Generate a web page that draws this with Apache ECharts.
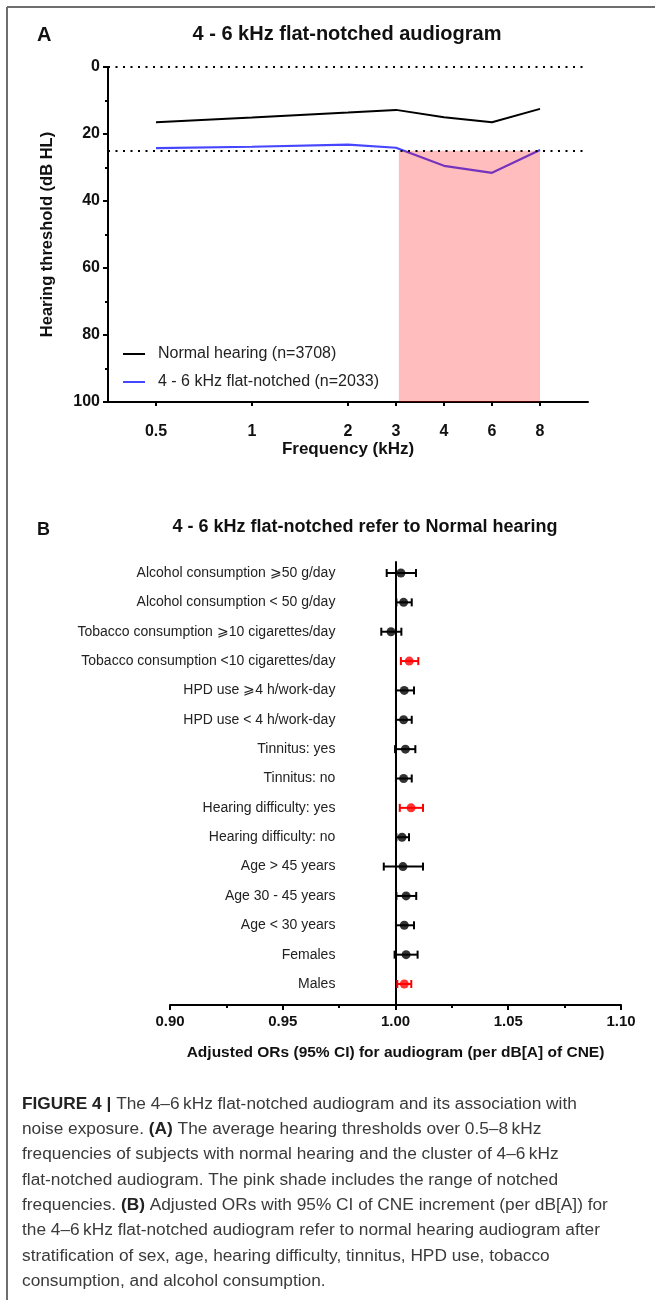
<!DOCTYPE html>
<html>
<head>
<meta charset="utf-8">
<title>Figure 4</title>
<script src="https://cdn.jsdelivr.net/npm/echarts@6/dist/echarts.min.js"></script>
<style>
    html, body { margin: 0; padding: 0; background: #fff; }
    #main { width: 655px; height: 1300px; }
</style>
</head>
<body>
<div id="main"></div>
<script>
// ---- panel A: audiogram ----
const freqLabels = ['0.5', '1', '2', '3', '4', '6', '8']
// x axis is not log: 0.5 / 1 / 2 sit two slots apart, 3 / 4 / 6 / 8 one slot apart
const freqSlots = [0, 2, 4, 5, 6, 7, 8]
const normalHearing = [16.5, 15.1, 13.6, 12.8, 15.0, 16.5, 12.5]
const flatNotched = [24.2, 23.8, 23.2, 24.1, 29.5, 31.6, 24.8]
// notched range shade: slot from, slot to, dB from, dB to
const notchShade = [5.06, 8, 25, 100]
const refLines = [0, 25]

// ---- panel B: adjusted ORs ----
const subgroups = [
    'Alcohol consumption \u2A7E50 g/day',
    'Alcohol consumption < 50 g/day',
    'Tobacco consumption \u2A7E10 cigarettes/day',
    'Tobacco consumption <10 cigarettes/day',
    'HPD use \u2A7E4 h/work-day',
    'HPD use < 4 h/work-day',
    'Tinnitus: yes',
    'Tinnitus: no',
    'Hearing difficulty: yes',
    'Hearing difficulty: no',
    'Age > 45 years',
    'Age 30 - 45 years',
    'Age < 30 years',
    'Females',
    'Males'
]
const orValue = [1.0024, 1.0036, 0.9980, 1.0061, 1.0039, 1.0036, 1.0044, 1.0036, 1.0069, 1.0029, 1.0033, 1.0047, 1.0039, 1.0047, 1.0039]
const ciLow = [0.9961, 1.0004, 0.9937, 1.0024, 1.0002, 1.0002, 0.9998, 1.0002, 1.0019, 1.0004, 0.9948, 1.0004, 1.0002, 0.9996, 1.0008]
const ciHigh = [1.0091, 1.0072, 1.0026, 1.0101, 1.0082, 1.0072, 1.0088, 1.0072, 1.0122, 1.0060, 1.0122, 1.0092, 1.0082, 1.0098, 1.0070]
const significant = [0, 0, 0, 1, 0, 0, 0, 0, 1, 0, 0, 0, 0, 0, 1]
const orTicks = [0.90, 0.95, 1.00, 1.05, 1.10]

// ---- caption ----
const captionLines = [
    '{b|FIGURE 4 |} The 4\u20136\u2009kHz flat-notched audiogram and its association with',
    'noise exposure. {b|(A)} The average hearing thresholds over 0.5\u20138\u2009kHz',
    'frequencies of subjects with normal hearing and the cluster of 4\u20136\u2009kHz',
    'flat-notched audiogram. The pink shade includes the range of notched',
    'frequencies. {b|(B)} Adjusted ORs with 95% CI of CNE increment (per dB[A]) for',
    'the 4\u20136\u2009kHz flat-notched audiogram refer to normal hearing audiogram after',
    'stratification of sex, age, hearing difficulty, tinnitus, HPD use, tobacco',
    'consumption, and alcohol consumption.'
]

const font = '"Liberation Sans", Arial, Helvetica, sans-serif'
const rows = subgroups.map((s, i) => i)

const chart = echarts.init(document.getElementById('main'))

const option = {
    animation: false,
    textStyle: { fontFamily: font },
    title: [
        {
            text: '4 - 6 kHz flat-notched audiogram',
            left: 347, top: 24, textAlign: 'center', padding: 0,
            textStyle: { fontSize: 20, fontWeight: 'bold', color: '#111' }
        },
        {
            text: '4 - 6 kHz flat-notched refer to Normal hearing',
            left: 365, top: 518, textAlign: 'center', padding: 0,
            textStyle: { fontSize: 18, fontWeight: 'bold', color: '#111' }
        }
    ],
    legend: {
        left: 123, top: 346, orient: 'vertical', padding: 0,
        icon: 'rect', itemWidth: 22, itemHeight: 2, itemGap: 12,
        data: ['Normal hearing (n=3708)', '4 - 6 kHz flat-notched (n=2033)'],
        textStyle: { fontSize: 16, color: '#222', padding: [0, 0, 0, 8] }
    },
    grid: [
        { left: 108, right: 67, top: 67, bottom: 898 },
        { left: 170, right: 34, top: 562, bottom: 295 }
    ],
    xAxis: [
        {
            gridIndex: 0, type: 'value', min: -1, max: 9, position: 'bottom',
            axisLine: { onZero: false, lineStyle: { color: '#000', width: 2 } },
            axisTick: { customValues: freqSlots, length: 4, lineStyle: { color: '#000', width: 2 } },
            axisLabel: {
                customValues: freqSlots, margin: 22,
                formatter: v => freqLabels[freqSlots.indexOf(v)],
                fontSize: 16, fontWeight: 'bold', color: '#111'
            },
            splitLine: { show: false },
            name: 'Frequency (kHz)', nameLocation: 'middle', nameGap: 39,
            nameTextStyle: { fontSize: 17, fontWeight: 'bold', color: '#111' }
        },
        {
            gridIndex: 1, type: 'value', min: 0.9, max: 1.1, interval: 0.05, position: 'bottom',
            axisLine: { onZero: false, lineStyle: { color: '#000', width: 2 } },
            axisTick: { length: 5, lineStyle: { color: '#000', width: 2 } },
            minorTick: { show: true, splitNumber: 2, length: 3, lineStyle: { color: '#000', width: 2 } },
            axisLabel: {
                customValues: orTicks, margin: 9,
                formatter: v => v.toFixed(2),
                fontSize: 15, fontWeight: 'bold', color: '#111'
            },
            splitLine: { show: false },
            name: 'Adjusted ORs (95% CI) for audiogram (per dB[A] of CNE)',
            nameLocation: 'middle', nameGap: 40,
            nameTextStyle: { fontSize: 15.5, fontWeight: 'bold', color: '#111' }
        }
    ],
    yAxis: [
        {
            gridIndex: 0, type: 'value', inverse: true, min: 0, max: 100, interval: 20, position: 'left',
            axisLine: { show: true, onZero: false, lineStyle: { color: '#000', width: 2 } },
            axisTick: { show: true, length: 5, lineStyle: { color: '#000', width: 2 } },
            minorTick: { show: true, splitNumber: 2, length: 3, lineStyle: { color: '#000', width: 2 } },
            axisLabel: { margin: 8, fontSize: 16, fontWeight: 'bold', color: '#111' },
            splitLine: { show: false },
            name: 'Hearing threshold (dB HL)', nameLocation: 'middle', nameGap: 52,
            nameTextStyle: { fontSize: 16.5, fontWeight: 'bold', color: '#111' }
        },
        {
            // vertical reference axis sits at OR = 1.00
            gridIndex: 1, type: 'value', inverse: true, min: -0.375, max: 14.715, position: 'left',
            offset: -225.4,
            axisLine: { show: true, onZero: false, lineStyle: { color: '#000', width: 2 } },
            axisTick: { show: false },
            axisLabel: {
                customValues: rows, margin: 60,
                formatter: v => subgroups[v],
                fontSize: 14, color: '#222'
            },
            splitLine: { show: false }
        }
    ],
    series: [
        {
            name: 'Normal hearing (n=3708)', type: 'line',
            xAxisIndex: 0, yAxisIndex: 0, symbol: 'none', z: 2,
            color: '#000',
            lineStyle: { color: '#000', width: 2 },
            data: freqSlots.map((x, i) => [x, normalHearing[i]]),
            markLine: {
                silent: true, symbol: 'none', label: { show: false },
                lineStyle: { color: '#000', width: 2, type: [2, 5.5] },
                data: refLines.map(v => ({ yAxis: v }))
            }
        },
        {
            name: '4 - 6 kHz flat-notched (n=2033)', type: 'line',
            xAxisIndex: 0, yAxisIndex: 0, symbol: 'none', z: 2,
            color: '#4646ff',
            lineStyle: { color: '#4646ff', width: 2.2 },
            data: freqSlots.map((x, i) => [x, flatNotched[i]])
        },
        {
            // translucent red shade over the notched range, drawn above the lines
            type: 'custom', xAxisIndex: 0, yAxisIndex: 0, z: 4, silent: true,
            data: [notchShade],
            encode: { x: [0, 1], y: [2, 3] },
            renderItem: function (params, api) {
                const p1 = api.coord([api.value(0), api.value(2)])
                const p2 = api.coord([api.value(1), api.value(3)])
                return {
                    type: 'rect',
                    shape: { x: p1[0], y: p1[1], width: p2[0] - p1[0], height: p2[1] - p1[1] },
                    style: { fill: 'rgba(255, 0, 0, 0.26)' }
                }
            }
        },
        {
            // 95% CI bars
            type: 'custom', xAxisIndex: 1, yAxisIndex: 1, z: 3, silent: true,
            data: rows.map(i => [i, ciLow[i], ciHigh[i]]),
            encode: { x: [1, 2], y: 0 },
            renderItem: function (params, api) {
                const row = api.value(0)
                const lo = api.coord([api.value(1), row])
                const hi = api.coord([api.value(2), row])
                const color = significant[params.dataIndex] ? '#ff0000' : '#000'
                const cap = 4
                const style = { stroke: color, lineWidth: 2 }
                return {
                    type: 'group',
                    children: [
                        { type: 'line', shape: { x1: lo[0], y1: lo[1], x2: hi[0], y2: hi[1] }, style: style },
                        { type: 'line', shape: { x1: lo[0], y1: lo[1] - cap, x2: lo[0], y2: lo[1] + cap }, style: style },
                        { type: 'line', shape: { x1: hi[0], y1: hi[1] - cap, x2: hi[0], y2: hi[1] + cap }, style: style }
                    ]
                }
            }
        },
        {
            type: 'scatter', xAxisIndex: 1, yAxisIndex: 1, z: 4, silent: true,
            symbol: 'circle', symbolSize: 9,
            itemStyle: { color: p => significant[p.dataIndex] ? '#ff0000' : '#000' },
            data: rows.map(i => [orValue[i], i])
        }
    ],
    graphic: [
        // figure frame (top and left edges)
        { type: 'line', shape: { x1: 7, y1: 7, x2: 655, y2: 7 }, style: { stroke: '#6e6e6e', lineWidth: 2 } },
        { type: 'line', shape: { x1: 7, y1: 7, x2: 7, y2: 1300 }, style: { stroke: '#6e6e6e', lineWidth: 2 } },
        { type: 'text', x: 37, y: 35, style: { text: 'A', font: 'bold 20px ' + font, fill: '#111', verticalAlign: 'middle' } },
        { type: 'text', x: 37, y: 530, style: { text: 'B', font: 'bold 18px ' + font, fill: '#111', verticalAlign: 'middle' } },
        ...captionLines.map((line, i) => ({
            type: 'text', x: 22, y: 1104 + i * 25.3,
            style: {
                text: line, font: '17.3px ' + font, fill: '#3a3a3a', verticalAlign: 'middle',
                rich: { b: { font: 'bold 17.3px ' + font, fill: '#222' } }
            }
        }))
    ]
}

chart.setOption(option)
</script>
</body>
</html>
